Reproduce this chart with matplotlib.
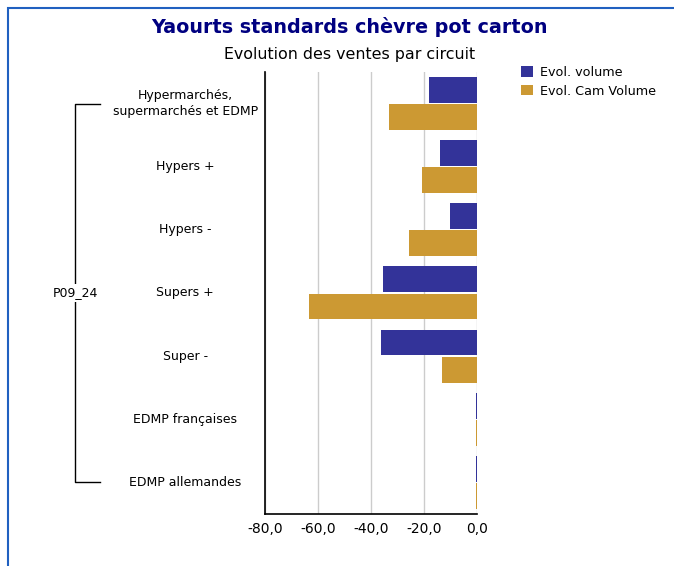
import matplotlib.pyplot as plt
import numpy as np
from matplotlib.patches import Rectangle
from matplotlib.lines import Line2D

categories = [
    "Hypermarchés,\nsupermarchés et EDMP",
    "Hypers +",
    "Hypers -",
    "Supers +",
    "Super -",
    "EDMP françaises",
    "EDMP allemandes",
]
evol_volume = [-18.1, -14.0, -10.2, -35.5, -36.2, -0.3, -0.3]
evol_cam_volume = [-33.2, -20.8, -25.7, -63.4, -13.2, -0.3, -0.3]
group_label = "P09_24"
x_ticks = [-80, -60, -40, -20, 0]

BLUE = "#333399"
GOLD = "#CC9933"

fig = plt.figure(figsize=(6.74, 5.66), dpi=100)
ax = fig.add_axes([0.3932, 0.0919, 0.3145, 0.781])

y = np.arange(len(categories))
h = 0.41
ax.barh(y - 0.215, evol_volume, height=h, color=BLUE, label="Evol. volume", zorder=3)
ax.barh(y + 0.215, evol_cam_volume, height=h, color=GOLD, label="Evol. Cam Volume", zorder=3)

ax.set_xlim(-80, 0)
ax.set_ylim(len(categories) - 0.5, -0.5)
ax.set_xticks(x_ticks)
ax.set_xticklabels([f"{v:.1f}".replace(".", ",") for v in x_ticks], fontsize=10)
ax.tick_params(axis="x", length=0, pad=6)
ax.set_yticks([])
ax.grid(axis="x", color="#cccccc", linewidth=1, zorder=0)
for side in ("top", "right"):
    ax.spines[side].set_visible(False)
for side in ("left", "bottom"):
    ax.spines[side].set_color("black")
    ax.spines[side].set_linewidth(1.2)

# category labels, centred in the left margin
tr = ax.get_yaxis_transform()
for yi, lab in zip(y, categories):
    ax.text(-0.377, yi, lab, transform=tr, ha="center", va="center",
            fontsize=9, linespacing=1.3)

# bracket grouping all circuits under the period label
bx, bt = -0.896, -0.778
ax.add_line(Line2D([bt, bx, bx, bt], [y[0], y[0], y[-1], y[-1]],
                   transform=tr, color="black", linewidth=1, clip_on=False))
ax.text(bx, 3, group_label, transform=tr, ha="center", va="center", fontsize=9,
        bbox=dict(facecolor="white", edgecolor="none", pad=2), clip_on=False)

fig.text(0.518, 0.952, "Yaourts standards chèvre pot carton", ha="center", va="center",
         fontsize=13.8, fontweight="bold", color="#000080")
fig.text(0.518, 0.903, "Evolution des ventes par circuit", ha="center", va="center",
         fontsize=11.4, color="black")

fig.legend(loc="upper left", bbox_to_anchor=(0.764, 0.895), frameon=False,
           fontsize=9.2, handlelength=0.9, handleheight=0.9, handletextpad=0.6,
           labelspacing=0.45, borderpad=0)

# outer frame
fig.add_artist(Rectangle((8 / 674, -0.05), 1.2, 1.05 - 8 / 566,
                         transform=fig.transFigure, fill=False,
                         edgecolor="#2060C0", linewidth=1.5))

fig.savefig("out.png", dpi=100)
